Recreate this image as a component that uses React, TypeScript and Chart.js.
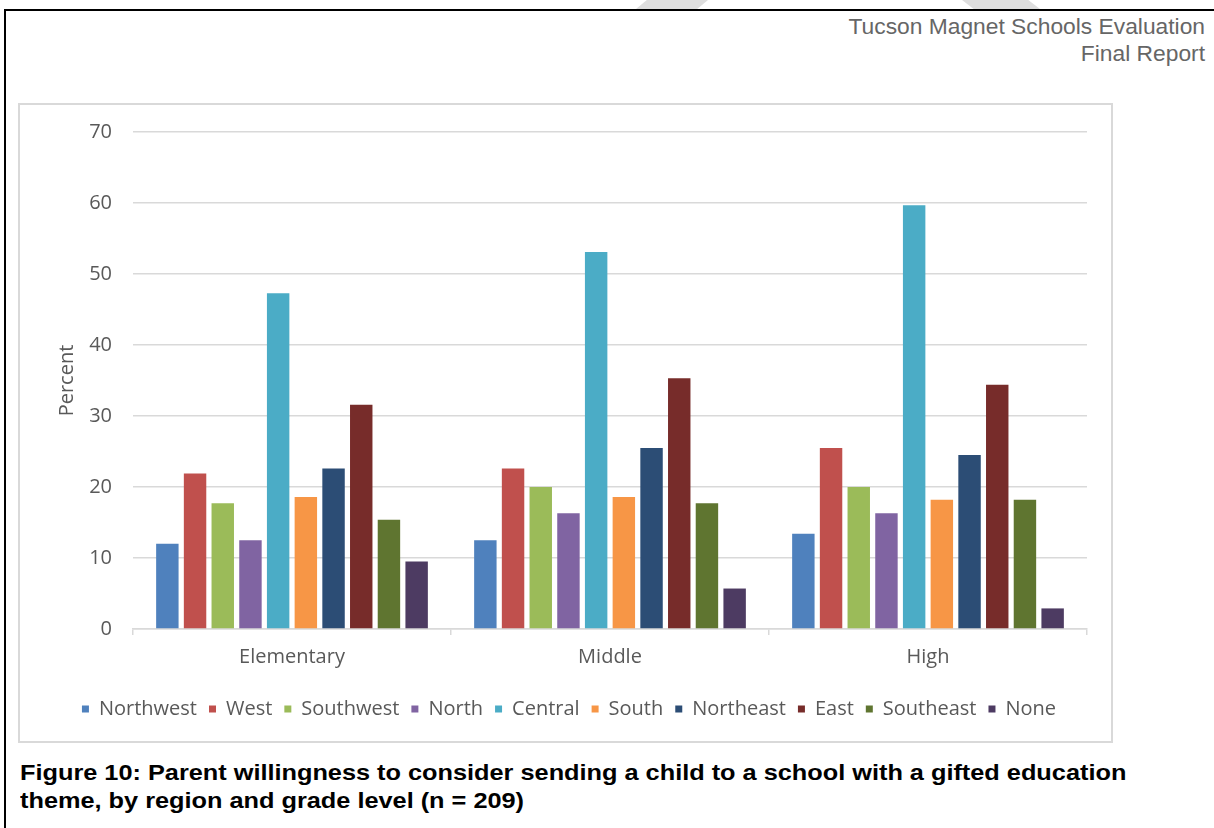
import React, { useEffect, useRef } from "react";
import { Chart, registerables } from "chart.js";

Chart.register(...registerables);

const categories = ["Elementary", "Middle", "High"];
const regions = ["Northwest", "West", "Southwest", "North", "Central", "South", "Northeast", "East", "Southeast", "None"];
const northwest = [12.0, 12.5, 13.4];
const west = [21.9, 22.6, 25.5];
const southwest = [17.7, 20.0, 20.0];
const north = [12.5, 16.3, 16.3];
const central = [47.3, 53.1, 59.7];
const south = [18.6, 18.6, 18.2];
const northeast = [22.6, 25.5, 24.5];
const east = [31.6, 35.3, 34.4];
const southeast = [15.4, 17.7, 18.2];
const none = [9.5, 5.7, 2.9];
const seriesValues = [northwest, west, southwest, north, central, south, northeast, east, southeast, none];
const seriesColors = ["#4F81BD", "#C0504D", "#9BBB59", "#8064A2", "#4BACC6", "#F79646", "#2C4D75", "#772C2A", "#5F7530", "#4D3B62"];
const yTicks = [0, 10, 20, 30, 40, 50, 60, 70];

const headerLines = ["Tucson Magnet Schools Evaluation", "Final Report"];
const captionLines = [
  "Figure 10: Parent willingness to consider sending a child to a school with a gifted education",
  "theme, by region and grade level (n = 209)",
];

const GREY = "#595959";
const GRID = "#d9d9d9";
const FONT = "'Open Sans', 'Noto Sans', sans-serif";
const FS = 20;

export default function App() {
  const canvasRef = useRef<HTMLCanvasElement | null>(null);

  useEffect(() => {
    if (!canvasRef.current) return;
    const chart = new Chart(canvasRef.current, {
      type: "bar",
      data: {
        labels: categories,
        datasets: regions.map((r, i) => ({
          label: r,
          data: seriesValues[i],
          backgroundColor: seriesColors[i],
          borderWidth: 0,
          categoryPercentage: 0.871,
          barPercentage: 0.81,
        })),
      },
      options: {
        animation: false,
        responsive: false,
        maintainAspectRatio: false,
        devicePixelRatio: 1,
        layout: { padding: { left: 31, right: 24, top: 27, bottom: 12 } },
        plugins: {
          tooltip: { enabled: false },
          legend: {
            position: "bottom",
            labels: {
              color: GREY,
              font: { family: FONT, size: FS },
              boxWidth: 7,
              boxHeight: 7,
              padding: 12,
            },
          },
        },
        scales: {
          x: {
            afterFit: (axis: any) => {
              axis.height = axis.height + 8;
            },
            grid: {
              display: true,
              drawOnChartArea: false,
              drawTicks: true,
              tickLength: 6,
              color: GRID,
              lineWidth: 1.5,
              offset: true,
            },
            border: { display: true, color: GRID, width: 1.5 },
            ticks: { color: GREY, font: { family: FONT, size: FS }, padding: 10 },
          },
          y: {
            min: 0,
            max: 70,
            afterBuildTicks: (axis: any) => {
              axis.ticks = yTicks.map((v) => ({ value: v }));
            },
            afterFit: (axis: any) => {
              axis.width = 82;
              axis.paddingTop = 0;
              axis.paddingBottom = 0;
            },
            grid: { color: GRID, lineWidth: 1.5, drawTicks: false },
            border: { display: false },
            ticks: { color: GREY, font: { family: FONT, size: FS }, padding: 21 },
            title: {
              display: true,
              text: "Percent",
              color: GREY,
              font: { family: FONT, size: FS },
              padding: { top: 4, bottom: 4 },
            },
          },
        },
      },
    });
    return () => chart.destroy();
  }, []);

  return (
    <div
      style={{
        position: "absolute",
        left: 0,
        top: 0,
        width: 1214,
        height: 828,
        background: "#ffffff",
        overflow: "hidden",
        fontFamily: "'Liberation Sans', Arial, sans-serif",
      }}
    >
      <div
        style={{
          position: "absolute",
          left: 636,
          top: 0,
          width: 72,
          height: 9,
          background: "#dedede",
          clipPath: "polygon(15% 0, 100% 0, 85% 100%, 0 100%)",
        }}
      />
      <div
        style={{
          position: "absolute",
          left: 962,
          top: 0,
          width: 78,
          height: 9,
          background: "#dedede",
          clipPath: "polygon(0 0, 85% 0, 100% 100%, 15% 100%)",
        }}
      />
      <div
        style={{
          position: "absolute",
          left: 4,
          top: 9,
          width: 1400,
          height: 1000,
          borderTop: "2px solid #000",
          borderLeft: "2px solid #000",
        }}
      />
      <div
        style={{
          position: "absolute",
          right: 9,
          top: 13,
          textAlign: "right",
          fontSize: 22.8,
          lineHeight: "27px",
          color: "#666666",
          whiteSpace: "nowrap",
        }}
      >
        {headerLines.map((l) => (
          <div key={l}>{l}</div>
        ))}
      </div>
      <div
        style={{
          position: "absolute",
          left: 18,
          top: 103,
          width: 1091,
          height: 636,
          border: "2px solid #d9d9d9",
        }}
      >
        <canvas ref={canvasRef} width={1091} height={636} style={{ display: "block", width: 1091, height: 636 }} />
      </div>
      <div
        style={{
          position: "absolute",
          left: 20,
          top: 759,
          fontSize: 22,
          fontWeight: "bold",
          lineHeight: "28px",
          color: "#000",
          whiteSpace: "nowrap",
          transform: "scaleX(1.15)",
          transformOrigin: "0 0",
        }}
      >
        {captionLines.map((l) => (
          <div key={l}>{l}</div>
        ))}
      </div>
    </div>
  );
}
